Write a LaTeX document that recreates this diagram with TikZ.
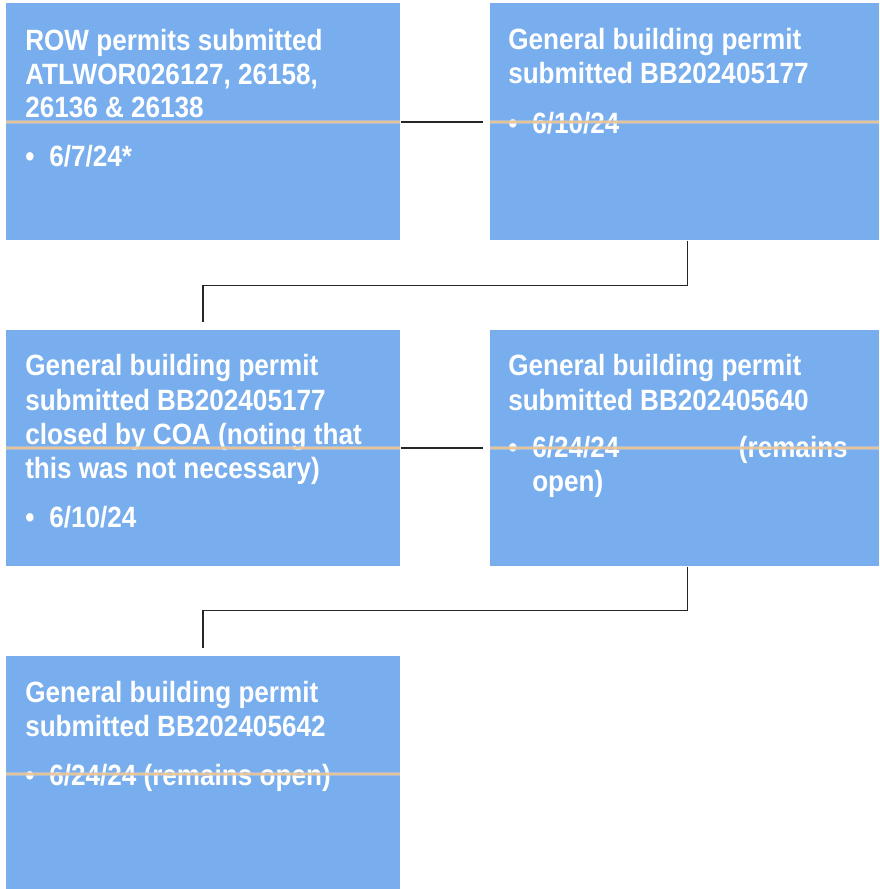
\documentclass[tikz,border=0pt]{standalone}
\usepackage{fontspec}
\setmainfont[FakeStretch=0.89]{Liberation Sans}
\def\upx{0.75pt}
\definecolor{boxblue}{RGB}{120,174,238}
\definecolor{glowout}{RGB}{200,200,200}
\definecolor{glowin}{RGB}{242,196,140}
\tikzset{
  pbox/.style={fill=boxblue, draw=none, inner sep=0pt, anchor=north west, rectangle},
  ptext/.style={anchor=base west, inner sep=0pt, text=white, font=\fontsize{22pt}{25pt}\selectfont\bfseries},
  ptextr/.style={ptext, anchor=base east},
  conn/.style={draw=black!85, line width=0.85pt},
  glowa/.style={draw=glowout, line width=4*\upx, opacity=0.6},
  glowb/.style={draw=glowin, line width=1.8*\upx, opacity=0.85}
}
\begin{document}
\begin{tikzpicture}[x=0.75pt, y=-0.75pt]
\useasboundingbox[fill=white] (0,0) rectangle (879,889);
% boxes
\node[pbox, minimum width=394*\upx, minimum height=237*\upx] (b1) at (6,3) {};
\node[pbox, minimum width=389*\upx, minimum height=237*\upx] (b2) at (490,3) {};
\node[pbox, minimum width=394*\upx, minimum height=236*\upx] (b3) at (6,330) {};
\node[pbox, minimum width=389*\upx, minimum height=236*\upx] (b4) at (490,330) {};
\node[pbox, minimum width=394*\upx, minimum height=233*\upx] (b5) at (6,656) {};
% box 1 text
\node[ptext] (t1a) at (25,50) {ROW permits submitted};
\node[ptext] (t1b) at (25,84) {ATLWOR026127, 26158,};
\node[ptext] (t1c) at (25,117) {26136 \& 26138};
\node[ptext] (t1d) at (25,166) {\textbullet};
\node[ptext] (t1e) at (49,166) {6/7/24*};
% box 2 text
\node[ptext] (t2a) at (508,49) {General building permit};
\node[ptext] (t2b) at (508,83) {submitted BB202405177};
\node[ptext] (t2c) at (508,133) {\textbullet};
\node[ptext] (t2d) at (532,133) {6/10/24};
% box 3 text
\node[ptext] (t3a) at (25,375) {General building permit};
\node[ptext] (t3b) at (25,410) {submitted BB202405177};
\node[ptext] (t3c) at (25,444) {closed by COA (noting that};
\node[ptext] (t3d) at (25,478) {this was not necessary)};
\node[ptext] (t3e) at (25,527) {\textbullet};
\node[ptext] (t3f) at (49,527) {6/10/24};
% box 4 text
\node[ptext] (t4a) at (508,375) {General building permit};
\node[ptext] (t4b) at (508,410) {submitted BB202405640};
\node[ptext] (t4c) at (508,457) {\textbullet};
\node[ptext] (t4d) at (532,457) {6/24/24};
\node[ptextr] (t4e) at (848,457) {(remains};
\node[ptext] (t4f) at (532,491) {open)};
% box 5 text
\node[ptext] (t5a) at (25,702) {General building permit};
\node[ptext] (t5b) at (25,736) {submitted BB202405642};
\node[ptext] (t5c) at (25,785) {\textbullet};
\node[ptext] (t5d) at (49,785) {6/24/24 (remains open)};
% glow lines
\foreach \ya/\xa/\xb in {122/6/400, 122/490/879, 448/6/400, 448/490/879, 774/6/400}{
  \draw[glowa] (\xa,\ya) -- (\xb,\ya);
  \draw[glowb] (\xa,\ya) -- (\xb,\ya);
}
% connectors
\coordinate (e1) at (483,122);
\coordinate (e2) at (203,322);
\coordinate (e3) at (483,448);
\coordinate (e4) at (203,648);
\draw[conn] (b1.east |- e1) -- (e1);
\draw[conn] ([xshift=2.5*\upx]b2.south) -- ++(0,45) -| (e2);
\draw[conn] (b3.east |- e3) -- (e3);
\draw[conn] ([xshift=2.5*\upx]b4.south) -- ++(0,44) -| (e4);
\end{tikzpicture}
\end{document}
